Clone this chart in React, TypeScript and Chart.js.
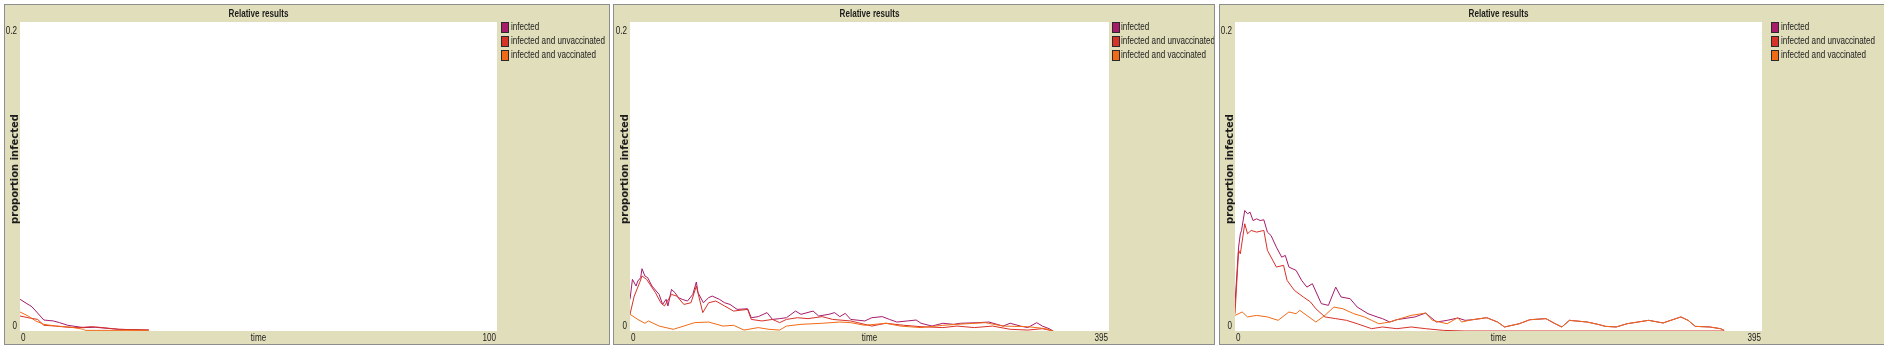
import React, { useEffect, useRef } from "react";
import { Chart, registerables } from "chart.js";

Chart.register(...registerables);

// ---------- data ----------
const chartTitle = "Relative results";
const xAxisTitle = "time";
const yAxisTitle = "proportion infected";
const seriesNames = ["infected", "infected and unvaccinated", "infected and vaccinated"];
const seriesColors = ["#A71B6A", "#D73229", "#F16A15"];
const yTicks = [0, 0.2];
const yTickLabels = ["0", "0.2"];

// Panel 1 (time 0..100)
const p1XTicks = [0, 100];
const p1XTickLabels = ["0", "100"];
const p1InfectedTime = [0, 2.5, 5, 7, 8.3, 10, 13.3, 15.8, 20.7, 27];
const p1Infected = [0.0205, 0.0157, 0.0071, 0.0065, 0.0054, 0.0037, 0.0022, 0.0024, 0.0011, 0.0006];
const p1UnvacTime = [0, 1.7, 3.7, 5, 7.5, 10, 12.4, 14.9, 16.6, 20.7, 27];
const p1Unvac = [0.0097, 0.0086, 0.0075, 0.0037, 0.0032, 0.0024, 0.0022, 0.0028, 0.0024, 0.0011, 0.0006];
const p1VacTime = [0, 1.7, 3.3, 5, 7.5, 10.4, 13.3, 13.7, 27];
const p1Vac = [0.0123, 0.0097, 0.0065, 0.0043, 0.0032, 0.0026, 0.0011, 0.0004, 0.0004];

// Panel 2 (time 0..395)
const p2XTicks = [0, 395];
const p2XTickLabels = ["0", "395"];
const p2InfectedTime = [0, 2, 5, 6.4, 8.8, 9.9, 12.3, 14.6, 18.1, 24, 26.9, 29.8, 31.3, 34.2, 37.1, 40, 43, 47.4, 51.8, 54.7, 56.1, 60.5, 64.9, 67.8, 73.7, 78, 82.5, 88.3, 97, 100, 105.8, 113, 117.5, 123.4, 129, 136.5, 141, 151, 155.6, 164, 168.7, 173, 177.5, 182, 193.6, 199.4, 208, 214, 220, 228.7, 236, 240, 249, 258, 266.7, 272.5, 287, 296, 307.6, 313.5, 322, 328, 335.4, 340, 345.6, 349];
const p2Infected = [0.0205, 0.0334, 0.0291, 0.0323, 0.0345, 0.0403, 0.0356, 0.0345, 0.0291, 0.0237, 0.0172, 0.0205, 0.0162, 0.0269, 0.0248, 0.0216, 0.0205, 0.0194, 0.0237, 0.0317, 0.0248, 0.0183, 0.0216, 0.0226, 0.0205, 0.0183, 0.0172, 0.014, 0.0144, 0.0086, 0.0093, 0.0119, 0.0075, 0.008, 0.0086, 0.0129, 0.0108, 0.0129, 0.0097, 0.0108, 0.0119, 0.0093, 0.0114, 0.0075, 0.0065, 0.0086, 0.0093, 0.0075, 0.0058, 0.0065, 0.0071, 0.005, 0.0032, 0.005, 0.0043, 0.005, 0.0054, 0.0058, 0.0032, 0.005, 0.0032, 0.0022, 0.0054, 0.0032, 0.0015, 0];
const p2UnvacTime = [0, 3.5, 7.9, 9.9, 13.7, 21, 25.4, 28.4, 34.2, 38.6, 44.4, 50.3, 54.7, 60, 64.9, 70.8, 78, 85.4, 97, 100, 108.8, 117.5, 123.4, 129, 138, 146.8, 158.5, 167, 182, 199.4, 211, 225.7, 240, 258, 269.6, 284, 299, 313.5, 328, 340, 349];
const p2Unvac = [0.0108, 0.0226, 0.0312, 0.0356, 0.0334, 0.0248, 0.0183, 0.0162, 0.0237, 0.0226, 0.0172, 0.0183, 0.0291, 0.0119, 0.0183, 0.0194, 0.0162, 0.0129, 0.014, 0.0075, 0.0065, 0.0075, 0.0054, 0.0075, 0.0086, 0.008, 0.0093, 0.0075, 0.0065, 0.0032, 0.005, 0.0037, 0.0028, 0.0022, 0.0032, 0.0022, 0.0032, 0.0011, 0.0006, 0.0015, 0];
const p2VacTime = [0, 6.4, 12.3, 15.2, 24, 35.7, 44.4, 53.2, 64.9, 76.6, 85.4, 94, 105.8, 114.6, 123.4, 129, 141, 158.5, 173, 182, 193.6, 211, 222.8, 240, 258, 269.6, 293, 307.6, 328, 342.7, 349];
const p2Vac = [0.0108, 0.0075, 0.005, 0.0065, 0.0032, 0.0011, 0.0032, 0.0054, 0.0058, 0.0032, 0.0037, 0.0006, 0.0022, 0.0011, 0.0006, 0.0032, 0.0043, 0.005, 0.0058, 0.0054, 0.0037, 0.005, 0.0032, 0.0022, 0.0037, 0.0043, 0.0054, 0.0032, 0.0028, 0.0015, 0];

// Panel 3 (time 0..395)
const p3XTicks = [0, 395];
const p3XTickLabels = ["0", "395"];
const p3InfectedTime = [0, 2.7, 4, 4.9, 7.3, 9.4, 11.3, 13.5, 16.2, 18.9, 21.6, 24.3, 27, 31, 35, 37.7, 40.4, 45.8, 49.9, 53.9, 58, 64.7, 70, 75.5, 79.5, 86.3, 91.6, 99.7, 106.5, 110.5, 116, 121, 134.8, 142.9, 151, 159, 167, 172.5, 177.9, 188.7, 196.8, 202, 213, 221, 233, 240, 245, 250.7, 264, 272, 277.6, 285.7, 293.8, 301.9, 310, 320.8, 334.2, 339.6, 345, 355.8, 363.9, 366.6];
const p3Infected = [0.0177, 0.0543, 0.0629, 0.0651, 0.078, 0.0759, 0.0769, 0.0715, 0.0726, 0.0715, 0.072, 0.064, 0.0618, 0.0543, 0.0478, 0.0489, 0.0414, 0.0392, 0.0328, 0.0284, 0.0306, 0.0177, 0.0166, 0.0284, 0.022, 0.0209, 0.0155, 0.0112, 0.0091, 0.008, 0.0058, 0.0073, 0.0091, 0.0116, 0.0058, 0.0069, 0.0084, 0.0069, 0.0073, 0.0086, 0.0058, 0.0026, 0.0047, 0.0073, 0.008, 0.0047, 0.0026, 0.0069, 0.0058, 0.0043, 0.003, 0.0026, 0.0047, 0.0058, 0.0069, 0.0052, 0.0091, 0.0069, 0.003, 0.0026, 0.0015, 0.0004];
const p3UnvacTime = [0, 2.7, 4, 7.3, 9.4, 12.1, 16.2, 21.6, 24.3, 31, 36.4, 39, 44.5, 51.2, 56.6, 60.6, 67.4, 75.5, 83.6, 91.6, 102.4, 110.5, 121.3, 132, 142.9, 156.3, 172.5, 366.6];
const p3Unvac = [0.0112, 0.0522, 0.05, 0.0694, 0.0629, 0.0651, 0.064, 0.0651, 0.0522, 0.0414, 0.0425, 0.0328, 0.0263, 0.022, 0.0188, 0.0144, 0.0091, 0.008, 0.0069, 0.0047, 0.0015, 0.0026, 0.0015, 0.0026, 0.0015, 0.0004, 0, 0];
const p3VacTime = [0, 5.4, 9.4, 16.2, 24.3, 32.3, 40.4, 45.8, 48.5, 60.6, 67.4, 74.1, 80.9, 89, 97, 102.4, 107.8, 116, 124, 132, 142.9, 148, 159, 167, 169.8, 177.9, 188.7, 196.8, 202, 213, 221, 233, 240, 245, 250.7, 264, 272, 277.6, 285.7, 293.8, 301.9, 310, 320.8, 334.2, 339.6, 345, 355.8, 363.9, 366.6];
const p3Vac = [0.0101, 0.0123, 0.0091, 0.0101, 0.0091, 0.0069, 0.0123, 0.0112, 0.0134, 0.0058, 0.0101, 0.0155, 0.0144, 0.0112, 0.0091, 0.0069, 0.0047, 0.0058, 0.008, 0.0101, 0.0116, 0.0069, 0.0047, 0.0086, 0.0058, 0.0073, 0.0086, 0.0058, 0.0026, 0.0047, 0.0073, 0.008, 0.0047, 0.0026, 0.0069, 0.0058, 0.0043, 0.003, 0.0026, 0.0047, 0.0058, 0.0069, 0.0052, 0.0091, 0.0069, 0.003, 0.0026, 0.0015, 0.0004];

// ---------- layout ----------
const BEIGE = "rgb(225,222,187)";
const BORDER = "#8d8d8d";
const PANEL_TOP = 4;
const PANEL_BOTTOM = 344;
const PLOT_TOP = 22;
const PLOT_BOTTOM = 331;
const Y_TITLE_CENTER = 169;
const CONDENSE = 0.81;

const panels = [
  { left: 4, right: 609, plotL: 20, plotR: 497, legendX: 501, textGap: 10, xMax: 100, xTicks: p1XTicks, xLabels: p1XTickLabels,
    series: [[p1InfectedTime, p1Infected], [p1UnvacTime, p1Unvac], [p1VacTime, p1Vac]] },
  { left: 613, right: 1214, plotL: 630, plotR: 1109, legendX: 1112, textGap: 9, xMax: 395, xTicks: p2XTicks, xLabels: p2XTickLabels,
    series: [[p2InfectedTime, p2Infected], [p2UnvacTime, p2Unvac], [p2VacTime, p2Vac]] },
  { left: 1219, right: 1886, plotL: 1235, plotR: 1762, legendX: 1771, textGap: 10, xMax: 395, xTicks: p3XTicks, xLabels: p3XTickLabels,
    series: [[p3InfectedTime, p3Infected], [p3UnvacTime, p3Unvac], [p3VacTime, p3Vac]] },
];

const SANS = "'Liberation Sans', Arial, sans-serif";

function narrowText(ctx: CanvasRenderingContext2D, text: string, x: number, y: number) {
  const w = ctx.measureText(text).width * CONDENSE;
  ctx.fillText(text, x, y, w);
}

const netlogoPlugin = {
  id: "netlogo",
  beforeDraw(chart: any) {
    const { ctx, chartArea: a } = chart;
    ctx.save();
    ctx.fillStyle = "#ffffff";
    ctx.fillRect(a.left, a.top, a.right - a.left, a.bottom - a.top);
    ctx.restore();
  },
  afterDraw(chart: any, _args: any, opts: any) {
    const { ctx, chartArea: a, scales } = chart;
    const xs = scales.x;
    const ys = scales.y;
    ctx.save();
    ctx.fillStyle = "#1c1c1c";

    // title
    ctx.font = "bold 10px " + SANS;
    ctx.textAlign = "center";
    ctx.textBaseline = "middle";
    narrowText(ctx, opts.title, (a.left + a.right) / 2, a.top - 8);

    // y tick labels (inner aligned like NetLogo)
    ctx.font = "10px " + SANS;
    ctx.textAlign = "right";
    opts.yTicks.forEach((v: number, i: number) => {
      const py = ys.getPixelForValue(v);
      const y = i === 0 ? py - 5 : py + 9;
      narrowText(ctx, opts.yLabels[i], a.left - 3, y);
    });

    // x tick labels
    const xy = a.bottom + 7;
    opts.xTicks.forEach((v: number, i: number) => {
      const px = xs.getPixelForValue(v);
      ctx.textAlign = i === 0 ? "left" : "right";
      narrowText(ctx, opts.xLabels[i], i === 0 ? px + 1 : px - 1, xy);
    });
    ctx.textAlign = "center";
    narrowText(ctx, opts.xTitle, (a.left + a.right) / 2, xy);

    // y title
    ctx.save();
    ctx.font = "bold 10px 'DejaVu Sans', sans-serif";
    ctx.translate(a.left - 5, opts.yTitleY);
    ctx.rotate(-Math.PI / 2);
    ctx.textAlign = "center";
    ctx.textBaseline = "middle";
    ctx.fillText(opts.yTitle, 0, 0);
    ctx.restore();

    // legend
    ctx.font = "10px " + SANS;
    ctx.textAlign = "left";
    ctx.textBaseline = "middle";
    opts.names.forEach((name: string, i: number) => {
      const sx = opts.legendX;
      const sy = a.top + i * 14;
      ctx.fillStyle = "#2a2a2a";
      ctx.fillRect(sx, sy, 8, 11);
      ctx.fillStyle = opts.colors[i];
      ctx.fillRect(sx + 1, sy + 1, 6, 9);
      ctx.fillStyle = "#1c1c1c";
      narrowText(ctx, name, sx + opts.textGap, sy + 5.5);
    });
    ctx.restore();
  },
};

function Panel({ cfg }: { cfg: any }) {
  const ref = useRef<HTMLCanvasElement | null>(null);
  const originX = cfg.left + 1;
  const originY = PANEL_TOP + 1;
  const cw = cfg.right - cfg.left - 1;
  const ch = PANEL_BOTTOM - PANEL_TOP - 1;

  useEffect(() => {
    if (!ref.current) return;
    const orders = [3, 2, 1];
    const datasets = cfg.series.map((s: number[][], i: number) => {
      const [t, v] = s;
      const n = Math.min(t.length, v.length);
      const data = [];
      for (let k = 0; k < n; k++) data.push({ x: t[k], y: v[k] });
      return {
        label: seriesNames[i],
        data,
        borderColor: seriesColors[i],
        backgroundColor: seriesColors[i],
        borderWidth: 1,
        pointRadius: 0,
        fill: false,
        tension: 0,
        order: orders[i],
      };
    });
    const chart = new Chart(ref.current, {
      type: "line",
      data: { datasets },
      options: {
        animation: false,
        responsive: false,
        maintainAspectRatio: false,
        devicePixelRatio: 1,
        events: [],
        layout: {
          padding: {
            left: cfg.plotL - originX,
            right: originX + cw - cfg.plotR,
            top: PLOT_TOP - originY,
            bottom: originY + ch - PLOT_BOTTOM,
          },
        },
        scales: {
          x: { type: "linear", min: 0, max: cfg.xMax, display: false },
          y: { type: "linear", min: 0, max: 0.2, display: false },
        },
        plugins: {
          legend: { display: false },
          tooltip: { enabled: false },
          title: { display: false },
          netlogo: {
            title: chartTitle,
            xTitle: xAxisTitle,
            yTitle: yAxisTitle,
            yTicks,
            yLabels: yTickLabels,
            xTicks: cfg.xTicks,
            xLabels: cfg.xLabels,
            names: seriesNames,
            colors: seriesColors,
            legendX: cfg.legendX - originX,
            textGap: cfg.textGap,
            yTitleY: Y_TITLE_CENTER - originY,
          },
        } as any,
      },
      plugins: [netlogoPlugin],
    } as any);
    return () => chart.destroy();
  }, []);

  return (
    <div
      style={{
        position: "absolute",
        left: cfg.left,
        top: PANEL_TOP,
        width: cfg.right - cfg.left + 1,
        height: PANEL_BOTTOM - PANEL_TOP + 1,
        boxSizing: "border-box",
        border: "1px solid " + BORDER,
        background: BEIGE,
      }}
    >
      <canvas
        ref={ref}
        width={cw}
        height={ch}
        style={{ position: "absolute", left: 0, top: 0, width: cw, height: ch }}
      />
    </div>
  );
}

export default function App() {
  return (
    <div
      style={{
        position: "absolute",
        left: 0,
        top: 0,
        width: 1884,
        height: 350,
        overflow: "hidden",
        background: "#ffffff",
      }}
    >
      {panels.map((p, i) => (
        <Panel key={i} cfg={p} />
      ))}
    </div>
  );
}
